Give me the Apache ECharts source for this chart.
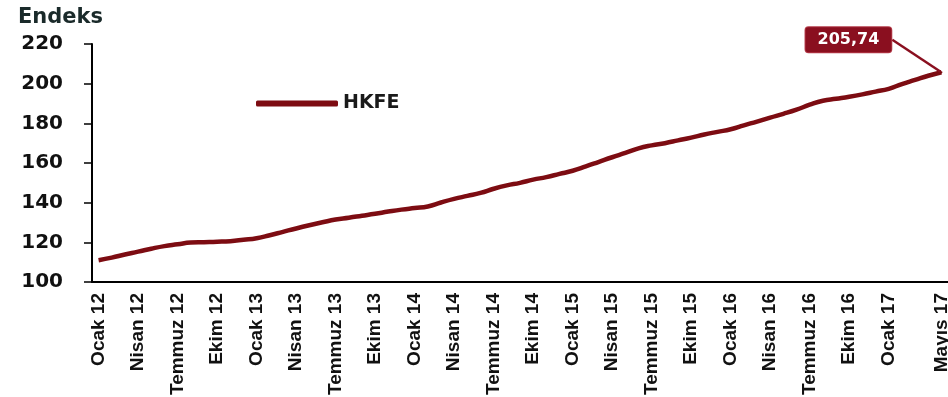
<!DOCTYPE html>
<html>
<head>
<meta charset="utf-8">
<script src="https://cdn.jsdelivr.net/npm/echarts@6/dist/echarts.min.js"></script>
<style>
  html, body { margin: 0; padding: 0; background: #fff; }
  #chart { width: 948px; height: 397px; }
</style>
</head>
<body>
<div id="chart"></div>
<script>
// aylar ve yıllar (Ocak 12 - Mayıs 17)
const monthNames = ['Ocak', 'Şubat', 'Mart', 'Nisan', 'Mayıs', 'Haziran', 'Temmuz', 'Ağustos', 'Eylül', 'Ekim', 'Kasım', 'Aralık']
const years = ['12', '13', '14', '15', '16', '17']

// HKFE endeks değerleri
const hkfe = [
  111.0, 112.3, 113.9, 115.3, 116.8, 118.1, 119.0, 119.9, 120.1, 120.3, 120.6, 121.3,
  122.1, 123.6, 125.3, 127.0, 128.6, 130.1, 131.5, 132.4, 133.4, 134.4, 135.5, 136.5,
  137.3, 138.1, 140.1, 141.9, 143.4, 144.9, 147.0, 148.7, 150.0, 151.6, 152.9, 154.5,
  156.1, 158.3, 160.6, 162.9, 165.1, 167.4, 168.9, 170.0, 171.4, 172.8, 174.4, 175.7,
  177.0, 179.0, 180.9, 182.9, 184.8, 186.9, 189.4, 191.4, 192.4, 193.4, 194.6, 196.0,
  197.4, 199.8, 201.9, 204.0, 205.74
]

const yTicks = { min: 100, max: 220, step: 20 }

const categories = []
years.forEach(y => monthNames.forEach(m => categories.push(m + ' ' + y)))
categories.length = hkfe.length

const lastIdx = hkfe.length - 1
const lineColor = '#7d0c12'
const boldFont = '"DejaVu Sans", Verdana, sans-serif'
const narrowFont = '"Liberation Sans Narrow", "Arial Narrow", sans-serif'

// son noktaya etiket (205,74) bağlanıyor
const seriesData = hkfe.map((v, i) => {
  if (i !== lastIdx) return v
  return {
    value: v,
    symbol: 'circle',
    symbolSize: 2,
    label: {
      show: true,
      position: 'top',
      formatter: p => p.value.toFixed(2).replace('.', ','),
      color: '#fff',
      fontFamily: boldFont,
      fontWeight: 'bold',
      fontSize: 16,
      backgroundColor: '#8a0f1f',
      borderColor: '#b33a48',
      borderWidth: 1,
      borderRadius: 3,
      padding: [5, 12, 4, 12]
    },
    labelLine: { show: true, lineStyle: { color: '#8a0f1f', width: 2.5 } }
  }
})

const chart = echarts.init(document.getElementById('chart'))

chart.setOption({
  animation: false,
  backgroundColor: '#fff',
  grid: { left: 92, right: 0, top: 44, bottom: 115, outerBoundsMode: 'none', containLabel: false },
  legend: {
    data: ['HKFE'],
    left: 251,
    top: 89,
    icon: 'roundRect',
    itemWidth: 82,
    itemHeight: 6,
    itemGap: 6,
    textStyle: { fontFamily: boldFont, fontWeight: 'bold', fontSize: 19, color: '#1a1a1a' }
  },
  xAxis: {
    type: 'category',
    data: categories,
    boundaryGap: true,
    axisLine: { lineStyle: { color: '#000', width: 2 } },
    axisTick: { interval: 0, length: 6, lineStyle: { color: '#000', width: 1.5 } },
    axisLabel: {
      interval: i => (i % 3 === 0 && i <= 60) || i === lastIdx,
      rotate: 90,
      margin: 11,
      color: '#111',
      fontFamily: narrowFont,
      fontWeight: 'bold',
      fontSize: 19
    },
    splitLine: { show: false }
  },
  yAxis: {
    type: 'value',
    min: yTicks.min,
    max: yTicks.max,
    interval: yTicks.step,
    name: 'Endeks',
    nameLocation: 'end',
    nameGap: 16,
    nameTextStyle: {
      fontFamily: boldFont, fontWeight: 'bold', fontSize: 21, color: '#1a2a2a',
      align: 'left', padding: [0, 0, 0, -74]
    },
    axisLine: { show: true, lineStyle: { color: '#000', width: 2 } },
    axisTick: { show: true, length: 8, lineStyle: { color: '#000', width: 1.5 } },
    axisLabel: {
      margin: 29,
      color: '#111',
      fontFamily: boldFont,
      fontWeight: 'bold',
      fontSize: 20
    },
    splitLine: { show: false }
  },
  series: [{
    name: 'HKFE',
    type: 'line',
    data: seriesData,
    smooth: true,
    symbol: 'none',
    showAllSymbol: true,
    itemStyle: { color: lineColor },
    lineStyle: { color: lineColor, width: 4.5 },
    labelLayout: p => p.dataIndex === lastIdx ? { dx: -93, dy: -14 } : {},
    z: 3
  }]
})

window.addEventListener('resize', () => chart.resize())
</script>
</body>
</html>
